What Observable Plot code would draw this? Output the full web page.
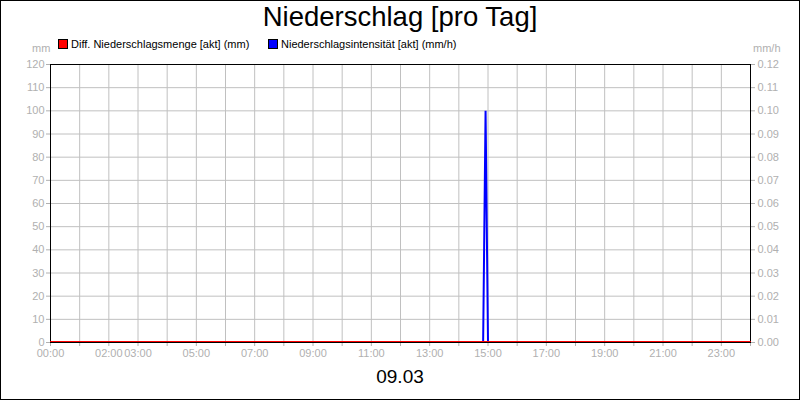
<!DOCTYPE html>
<html>
<head>
<meta charset="utf-8">
<script src="https://cdn.jsdelivr.net/npm/d3@7"></script>
<script src="https://cdn.jsdelivr.net/npm/@observablehq/plot@0.6"></script>
<style>
  body { margin: 0; background: #fff; font-family: "Liberation Sans", Arial, sans-serif; }
  #wrap { position: relative; width: 800px; height: 400px; background: #fff; overflow: hidden; }
  #wrap svg { position: absolute; left: 0; top: 0; }
  #border { position: absolute; left: 0; top: 0; width: 800px; height: 400px; box-sizing: border-box; border: 1px solid #000; pointer-events: none; }
  .title { position: absolute; left: 0; width: 800px; top: 1px; text-align: center; font-size: 27.5px; color: #000; }
  .legend { position: absolute; top: 38px; font-size: 11px; color: #000; display: flex; align-items: center; white-space: nowrap; }
  .sw { display: inline-block; width: 8px; height: 8px; border: 1px solid #000; margin-right: 3px; }
  .unit { position: absolute; top: 42px; font-size: 11px; color: #b0b0b0; }
  .date { position: absolute; left: 0; width: 800px; top: 366px; text-align: center; font-size: 19px; color: #000; }
</style>
</head>
<body>
<div id="wrap">
  <div class="title">Niederschlag [pro Tag]</div>
  <div class="legend" style="left:58px"><span class="sw" style="background:#ff0000"></span>Diff. Niederschlagsmenge [akt] (mm)</div>
  <div class="legend" style="left:268px"><span class="sw" style="background:#0000ff"></span>Niederschlagsintensität [akt] (mm/h)</div>
  <div class="unit" style="left:32px">mm</div>
  <div class="unit" style="left:753px">mm/h</div>
  <div class="date">09.03</div>
  <div id="border"></div>
</div>
<script>
// ---- data ----
const dayLabel = "09.03";
const hourTickLabels = ["00:00","02:00","03:00","05:00","07:00","09:00","11:00","13:00","15:00","17:00","19:00","21:00","23:00"];
const mmTicks = [0,10,20,30,40,50,60,70,80,90,100,110,120];
const intensityTicks = [0,0.01,0.02,0.03,0.04,0.05,0.06,0.07,0.08,0.09,0.10,0.11,0.12];
const amountTimes = ["00:00","24:00"];
const amountValues = [0, 0];            // Diff. Niederschlagsmenge (mm)
const intensityTimes = ["00:00","14:50","14:55","15:00","24:00"];
const intensityValues = [0, 0, 0.10, 0, 0]; // Niederschlagsintensität (mm/h)

// ---- helpers ----
const toDate = t => { const [h, m] = t.split(":").map(Number); return new Date(Date.UTC(2024, 2, 9, h, m)); };
const start = toDate("00:00"), end = toDate("24:00");
const scaleFactor = 120 / 0.12; // intensity axis maps 0..0.12 onto 0..120

const amountData = amountTimes.map((t, i) => ({t: toDate(t), v: amountValues[i]}));
const intensityData = intensityTimes.map((t, i) => ({t: toDate(t), v: intensityValues[i] * scaleFactor}));
const hourTicks = d3.utcHour.range(start, d3.utcHour.offset(end, 1));
const fmtHM = d3.utcFormat("%H:%M");
const gray = "#b0b0b0";

const chart = Plot.plot({
  width: 800,
  height: 400,
  marginLeft: 50,
  marginRight: 50,
  marginTop: 64,
  marginBottom: 58,
  style: {fontFamily: "Liberation Sans, Arial, sans-serif", fontSize: "11px", background: "transparent"},
  x: {type: "utc", domain: [start, end]},
  y: {domain: [0, 120]},
  marks: [
    Plot.gridX(hourTicks, {stroke: "#c0c0c0", strokeOpacity: 1}),
    Plot.gridY(mmTicks, {stroke: "#c0c0c0", strokeOpacity: 1}),
    Plot.axisX(hourTicks, {
      color: gray, tickSize: 4, tickPadding: 3, label: null,
      tickFormat: d => { const s = fmtHM(d); return (hourTickLabels.includes(s) && +d < +end) ? s : ""; }
    }),
    Plot.axisY(mmTicks, {anchor: "left", color: gray, tickSize: 4, tickPadding: 2, label: null}),
    Plot.axisY(intensityTicks.map(v => v * scaleFactor), {
      anchor: "right", color: gray, tickSize: 4, tickPadding: 3, label: null,
      tickFormat: d => (d / scaleFactor).toFixed(2)
    }),
    Plot.line(intensityData, {x: "t", y: "v", stroke: "#0000ff", strokeWidth: 2, strokeLinejoin: "miter", clip: true}),
    Plot.frame({stroke: "#000", strokeWidth: 1}),
    Plot.line(amountData, {x: "t", y: "v", stroke: "#ff0000", strokeWidth: 1, dy: -1})
  ]
});
document.getElementById("wrap").insertBefore(chart, document.getElementById("wrap").firstChild);
</script>
</body>
</html>
